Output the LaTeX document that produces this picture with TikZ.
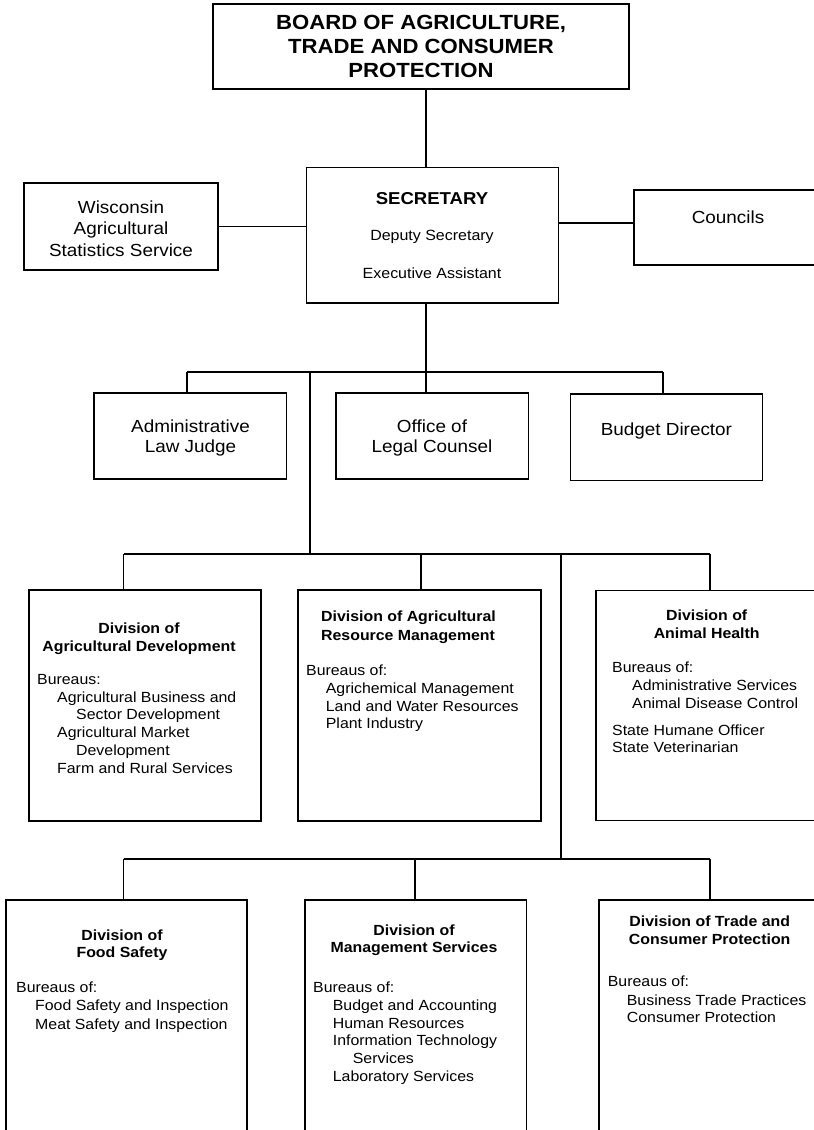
\documentclass[tikz,border=0pt]{standalone}
\usepackage{fontspec}
\setmainfont[FakeStretch=1.08]{Liberation Sans}
\newcommand\lbl[5]{\node[#1,anchor=#2] (#3) at (#4) {#5};}
\tikzset{
  box/.style={draw, line width=1.5pt, inner sep=0pt},
  link/.style={line width=1.5pt},
  tboard/.style={inner sep=0pt, font=\bfseries\fontsize{20.5}{24}\selectfont},
  tsec/.style={inner sep=0pt, font=\bfseries\fontsize{17.2}{20}\selectfont},
  tsmall/.style={inner sep=0pt, font=\fontsize{14.8}{17}\selectfont},
  tmid/.style={inner sep=0pt, font=\fontsize{17.5}{21}\selectfont},
  thead/.style={inner sep=0pt, font=\bfseries\fontsize{14.7}{17}\selectfont},
  tbody/.style={inner sep=0pt, font=\fontsize{14.7}{17}\selectfont},
}
\begin{document}
\begin{tikzpicture}[x=1pt,y=-1pt]
\useasboundingbox (0,0) rectangle (814,1130);
\fill[white] (0,0) rectangle (814,1130);
\clip (0,0) rectangle (814,1130);

% ---------- boxes ----------
\node[box, minimum width=416pt, minimum height=85pt] (board) at (421,46.5) {};
\node[box, minimum width=251.6pt, minimum height=135.3pt] (secretary) at (432.5,235.3) {};
\node[box, minimum width=194pt, minimum height=87pt] (wass) at (121,226.5) {};
\node[box, minimum width=216pt, minimum height=75pt] (councils) at (742,227.5) {};
\node[box, minimum width=192.5pt, minimum height=86pt] (admin) at (190.25,436) {};
\node[box, minimum width=192.5pt, minimum height=86pt] (legal) at (432.25,436) {};
\node[box, minimum width=192pt, minimum height=86.7pt] (budget) at (666.6,437.3) {};
\node[box, minimum width=232pt, minimum height=231pt] (agdev) at (145,705.5) {};
\node[box, minimum width=243pt, minimum height=231pt] (arm) at (419.5,705.5) {};
\node[box, minimum width=244pt, minimum height=230pt] (animal) at (718,705.7) {};
\node[box, minimum width=241pt, minimum height=260pt] (food) at (126.5,1030) {};
\node[box, minimum width=221.7pt, minimum height=260pt] (mgmt) at (415.85,1030) {};
\node[box, minimum width=241pt, minimum height=260pt] (trade) at (719.5,1030) {};

% ---------- junction coordinates ----------
\coordinate (tx) at (426,0);
\coordinate (j1) at (426,372);
\coordinate (j1l) at (187,372);
\coordinate (j1r) at (663,372);
\coordinate (j1t) at (310,372);
\coordinate (j2t) at (310,554);
\coordinate (j2l) at (123.5,554);
\coordinate (j2m) at (421,554);
\coordinate (j2x) at (561,554);
\coordinate (j2r) at (710,554);
\coordinate (j3x) at (561,859);
\coordinate (j3l) at (123.5,859);
\coordinate (j3m) at (415,859);
\coordinate (j3r) at (710,859);
\coordinate (cy) at (0,223);

% ---------- connectors ----------
\draw[link] (board.south -| tx) -- (secretary.north -| tx);
\draw[link] (wass.east) -- (wass.east -| secretary.west);
\draw[link] (secretary.east |- cy) -- (councils.west |- cy);
\draw[link] (secretary.south -| tx) -- (j1);
\draw[link] (j1l) -- (j1r);
\draw[link] (j1l) -- (admin.north -| j1l);
\draw[link] (j1) -- (legal.north -| j1);
\draw[link] (j1r) -- (budget.north -| j1r);
\draw[link] (j1t) -- (j2t);
\draw[link] (j2l) -- (j2r);
\draw[link] (j2l) -- (agdev.north -| j2l);
\draw[link] (j2m) -- (arm.north -| j2m);
\draw[link] (j2r) -- (animal.north -| j2r);
\draw[link] (j2x) -- (j3x);
\draw[link] (j3l) -- (j3r);
\draw[link] (j3l) -- (food.north -| j3l);
\draw[link] (j3m) -- (mgmt.north -| j3m);
\draw[link] (j3r) -- (trade.north -| j3r);

% ---------- texts ----------
\lbl{tboard}{base}{b1}{421,29.4}{BOARD OF AGRICULTURE,}
\lbl{tboard}{base}{b2}{421,53.4}{TRADE AND CONSUMER}
\lbl{tboard}{base}{b3}{421,77.6}{PROTECTION}

\lbl{tsec}{base}{s1}{432,204}{SECRETARY}
\lbl{tsmall}{base}{s2}{432,240.7}{Deputy Secretary}
\lbl{tsmall}{base}{s3}{432,278.3}{Executive Assistant}

\lbl{tmid}{base}{w1}{121,213.3}{Wisconsin}
\lbl{tmid}{base}{w2}{121,234.6}{Agricultural}
\lbl{tmid}{base}{w3}{121,256}{Statistics Service}

\lbl{tmid}{base}{c1}{728,223.3}{Councils}

\lbl{tmid}{base}{a1}{190.5,432.7}{Administrative}
\lbl{tmid}{base}{a2}{190.5,452.7}{Law Judge}
\lbl{tmid}{base}{l1}{432,432.7}{Office of}
\lbl{tmid}{base}{l2}{432,452.7}{Legal Counsel}
\lbl{tmid}{base}{bd1}{666.4,435}{Budget Director}

% Agricultural Development
\lbl{thead}{base}{ad1}{139,633.3}{Division of}
\lbl{thead}{base}{ad2}{139,651}{Agricultural Development}
\lbl{tbody}{base west}{ad3}{37,684}{Bureaus:}
\lbl{tbody}{base west}{ad4}{57,702}{Agricultural Business and}
\lbl{tbody}{base west}{ad5}{76,719.7}{Sector Development}
\lbl{tbody}{base west}{ad6}{57,737.4}{Agricultural Market}
\lbl{tbody}{base west}{ad7}{76,755.1}{Development}
\lbl{tbody}{base west}{ad8}{57,773}{Farm and Rural Services}

% Agricultural Resource Management
\lbl{thead}{base west}{ar1}{321,621.7}{Division of Agricultural}
\lbl{thead}{base west}{ar2}{321,640}{Resource Management}
\lbl{tbody}{base west}{ar3}{306,675}{Bureaus of:}
\lbl{tbody}{base west}{ar4}{325.7,693.3}{Agrichemical Management}
\lbl{tbody}{base west}{ar5}{325.7,711}{Land and Water Resources}
\lbl{tbody}{base west}{ar6}{325.7,728.5}{Plant Industry}

% Animal Health
\lbl{thead}{base}{ah1}{706.7,620.7}{Division of}
\lbl{thead}{base}{ah2}{706.7,638.3}{Animal Health}
\lbl{tbody}{base west}{ah3}{612,672.3}{Bureaus of:}
\lbl{tbody}{base west}{ah4}{632,690}{Administrative Services}
\lbl{tbody}{base west}{ah5}{632,708}{Animal Disease Control}
\lbl{tbody}{base west}{ah6}{612,735}{State Humane Officer}
\lbl{tbody}{base west}{ah7}{612,752}{State Veterinarian}

% Food Safety
\lbl{thead}{base}{fs1}{122,940}{Division of}
\lbl{thead}{base}{fs2}{122,957.5}{Food Safety}
\lbl{tbody}{base west}{fs3}{16,992.7}{Bureaus of:}
\lbl{tbody}{base west}{fs4}{35,1010.7}{Food Safety and Inspection}
\lbl{tbody}{base west}{fs5}{35,1029}{Meat Safety and Inspection}

% Management Services
\lbl{thead}{base}{ms1}{414,935}{Division of}
\lbl{thead}{base}{ms2}{414,952.5}{Management Services}
\lbl{tbody}{base west}{ms3}{313,992.7}{Bureaus of:}
\lbl{tbody}{base west}{ms4}{332.7,1010.3}{Budget and Accounting}
\lbl{tbody}{base west}{ms5}{332.7,1028}{Human Resources}
\lbl{tbody}{base west}{ms6}{332.7,1045.6}{Information Technology}
\lbl{tbody}{base west}{ms7}{352.7,1063.3}{Services}
\lbl{tbody}{base west}{ms8}{332.7,1081}{Laboratory Services}

% Trade and Consumer Protection
\lbl{thead}{base}{tc1}{709.7,926.7}{Division of Trade and}
\lbl{thead}{base}{tc2}{709.7,944.3}{Consumer Protection}
\lbl{tbody}{base west}{tc3}{607.7,986.7}{Bureaus of:}
\lbl{tbody}{base west}{tc4}{626.7,1005}{Business Trade Practices}
\lbl{tbody}{base west}{tc5}{626.7,1022.7}{Consumer Protection}
\end{tikzpicture}
\end{document}
